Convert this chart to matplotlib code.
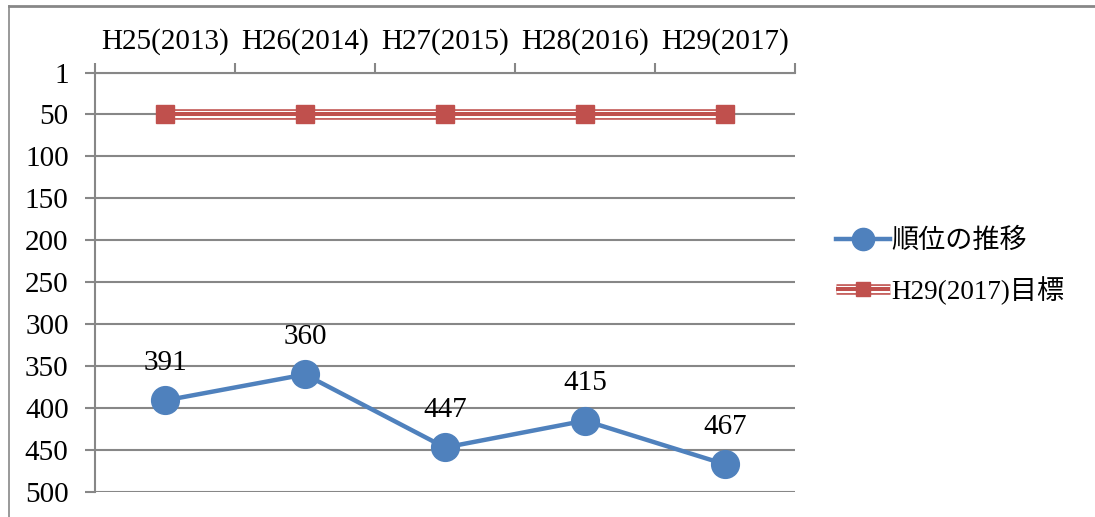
import matplotlib
matplotlib.use("Agg")
import matplotlib.pyplot as plt
from matplotlib.lines import Line2D
from matplotlib.legend_handler import HandlerTuple

# データ
years = ["H25(2013)", "H26(2014)", "H27(2015)", "H28(2016)", "H29(2017)"]
rank = [391, 360, 447, 415, 467]
target = [50, 50, 50, 50, 50]
y_ticks = [1, 50, 100, 150, 200, 250, 300, 350, 400, 450, 500]

BLUE = "#4F81BD"
RED = "#C0504D"
GRID = "#878787"
FONT = ["Liberation Serif", "Noto Sans CJK JP"]

plt.rcParams["font.family"] = FONT
plt.rcParams["font.size"] = 21

fig = plt.figure(figsize=(10.95, 5.17), dpi=100)

# 外枠（上と左だけ見えている）
fig.add_artist(Line2D([9 / 1095, 1], [1 - 6 / 517, 1 - 6 / 517], color=GRID, lw=2,
                      transform=fig.transFigure))
fig.add_artist(Line2D([9 / 1095, 9 / 1095], [0, 1 - 6 / 517], color=GRID, lw=1.2,
                      transform=fig.transFigure))

ax = fig.add_axes([95 / 1095, 1 - 492 / 517, 700 / 1095, (492 - 73) / 517])
x = list(range(len(years)))

ax.set_xlim(-0.5, len(years) - 0.5)
ax.set_ylim(500, 1)
ax.set_yticks(y_ticks)
ax.yaxis.grid(True, color=GRID, lw=1.5)
ax.set_axisbelow(True)
for s in ["right", "bottom"]:
    ax.spines[s].set_visible(False)
for s in ["left", "top"]:
    ax.spines[s].set_color(GRID)
    ax.spines[s].set_linewidth(1.5)

ax.xaxis.tick_top()
ax.set_xticks([i - 0.5 for i in range(len(years) + 1)])
ax.set_xticklabels([])
ax.set_xticks(x, minor=True)
ax.set_xticklabels(years, minor=True)
ax.tick_params(axis="x", which="major", length=7, width=1.5, color=GRID, direction="out")
ax.tick_params(axis="x", which="minor", length=0, pad=13)
ax.tick_params(axis="y", length=7, width=1.5, color=GRID, direction="out", pad=12)

# 目標ライン（三重線）
l1, = ax.plot(x, target, color=RED, lw=7.6, solid_capstyle="butt", zorder=3)
l2, = ax.plot(x, target, color="white", lw=5.2, solid_capstyle="butt", zorder=3)
l3, = ax.plot(x, target, color=RED, lw=2.9, solid_capstyle="butt", zorder=3)
m1, = ax.plot(x, target, ls="none", marker="s", ms=12.5, color=RED, zorder=4)

# 順位の推移
b1, = ax.plot(x, rank, color=BLUE, lw=3.2, marker="o", ms=20, zorder=5)
for xi, v in zip(x, rank):
    ax.annotate(str(v), (xi, v), xytext=(0, 22), textcoords="offset points",
                ha="center", va="baseline")

ax.legend([b1, (l1, l2, l3, m1)], ["順位の推移", "H29(2017)目標"],
          handler_map={tuple: HandlerTuple(ndivide=1, pad=0)},
          loc="center left", bbox_to_anchor=(1.024, 0.537), frameon=False,
          handlelength=2.0, handletextpad=0.05, labelspacing=0.8,
          markerscale=0.8, fontsize=19.5)

fig.savefig("out.png", dpi=100)
